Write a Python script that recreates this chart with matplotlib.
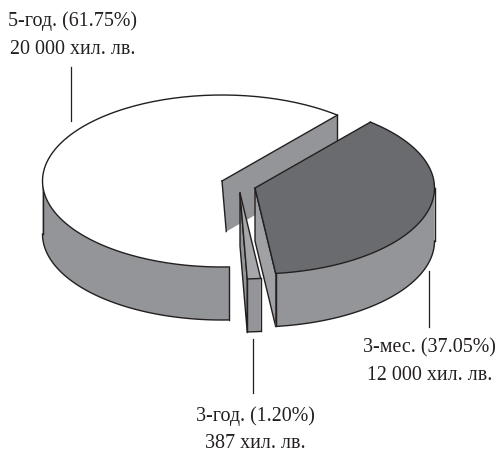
import numpy as np
import matplotlib
matplotlib.use('Agg')
import matplotlib.pyplot as plt

# stojnosti ot diagramata
names = ['5-год. (61.75%)', '3-год. (1.20%)', '3-мес. (37.05%)']
amounts = ['20 000 хил. лв.', '387 хил. лв.', '12 000 хил. лв.']
values = [20000, 387, 12000]

top_colors = ['white', '#a5a7aa', '#6a6b6e']
wall_color = '#939598'
cut_color = '#9fa1a4'
line_color = '#231f20'

# izgled na elipsata (pikseli)
rx, ry, depth = 179.5, 86, 53
start_angle = 50
apex = [(222, 181), (240, 193), (255, 188)]  # explode na vseki rezen
text_pos = [(73, 21, 49), (255.5, 416, 444), (429.5, 348, 376)]
leaders = [(70.5, 67, 121), (253, 339, 393), (429, 271, 327)]


def rim(center, a, drop=0):
    a = np.radians(a)
    return center[0] + rx * np.cos(a), center[1] - ry * np.sin(a) + drop


fig = plt.figure(figsize=(4.97, 4.54), dpi=100)
ax = fig.add_axes([0, 0, 1, 1])
ax.set_xlim(0, 497)
ax.set_ylim(454, 0)
ax.axis('off')

sweeps = np.array(values) / sum(values) * 360
starts = start_angle + np.concatenate([[0], np.cumsum(sweeps)[:-1]])


def draw_outer_wall(c, a0, a1, zorder=2):
    # samo dolnata polovina na elipsata se vizhda
    lo, hi = max(a0, 180), min(a1, 360)
    t = np.linspace(lo, hi, 100)
    x, y = rim(c, t)
    ax.fill(np.r_[x, x[::-1]], np.r_[y, y[::-1] + depth], color=wall_color, lw=0, zorder=zorder)
    ax.plot(x, y + depth, color=line_color, lw=1, zorder=zorder + 0.5)
    ax.plot([x[0], x[0]], [y[0], y[0] + depth], color=line_color, lw=1, zorder=zorder + 0.5)
    ax.plot([x[-1], x[-1]], [y[-1], y[-1] + depth], color=line_color, lw=1, zorder=zorder + 0.5)


def draw_top(c, a0, a1, color, zorder=4):
    t = np.linspace(a0, a1, 200)
    x, y = rim(c, t)
    ax.fill(np.r_[c[0], x], np.r_[c[1], y], color=color, lw=0, zorder=zorder)
    ax.plot(x, y, color=line_color, lw=1, zorder=zorder + 1)


# 5-god. rezen
c = apex[0]
a0, a1 = starts[0], starts[0] + sweeps[0]
sx, sy = rim(c, a0)
ex, ey = rim(c, a1)
ax.fill([c[0], sx, sx, c[0]], [c[1], sy, sy + depth, c[1] + depth], color=wall_color, lw=0, zorder=1)
ax.plot([sx, sx], [sy, sy + depth], color=line_color, lw=1, zorder=1.5)
draw_outer_wall(c, a0, a1)
draw_top(c, a0, a1, top_colors[0])
ax.plot([c[0], sx], [c[1], sy], color=line_color, lw=1, zorder=5)
# rabat na bialoto se vizhda samo do dolnia rab na stenata
slope = (sy - c[1]) / (sx - c[0])
frac = depth / ((ey - c[1]) - slope * (ex - c[0]))
ax.plot([c[0], c[0] + frac * (ex - c[0])], [c[1], c[1] + frac * (ey - c[1])], color=line_color, lw=1, zorder=5)

# 3-god. rezen
c = apex[1]
a0, a1 = starts[1], starts[1] + sweeps[1]
sx, sy = rim(c, a0)
ex, ey = rim(c, a1)
ax.fill([c[0], sx, sx, c[0]], [c[1], sy, sy + depth, c[1] + depth], color=wall_color,
        ec=line_color, lw=1, zorder=6)
draw_outer_wall(c, a0, a1, zorder=7)
draw_top(c, a0, a1, top_colors[1], zorder=8)
ax.plot([c[0], sx], [c[1], sy], color=line_color, lw=1, zorder=9)
ax.plot([c[0], ex], [c[1], ey], color=line_color, lw=1, zorder=9)

# 3-mes. rezen - prednata strana e pri a0
c = apex[2]
a0, a1 = starts[2], starts[2] + sweeps[2]
sx, sy = rim(c, a0)
ex, ey = rim(c, a1)
ax.fill([c[0], sx, sx, c[0]], [c[1], sy, sy + depth, c[1] + depth], color=cut_color,
        ec=line_color, lw=1, zorder=10)
draw_outer_wall(c, a0, a1, zorder=11)
draw_top(c, a0, a1, top_colors[2], zorder=12)
ax.plot([c[0], sx], [c[1], sy], color=line_color, lw=1, zorder=13)
ax.plot([c[0], ex], [c[1], ey], color=line_color, lw=1, zorder=13)

# leader linii i tekst
for x, y0, y1 in leaders:
    ax.plot([x, x], [y0, y1], color=line_color, lw=0.9, zorder=14)

for name, amount, (x, y0, y1) in zip(names, amounts, text_pos):
    ax.text(x, y0, name, ha='center', va='center', family='Liberation Serif', fontsize=14.4, color=line_color)
    ax.text(x, y1, amount, ha='center', va='center', family='Liberation Serif', fontsize=14.4, color=line_color)

fig.savefig('out.png', dpi=100)
